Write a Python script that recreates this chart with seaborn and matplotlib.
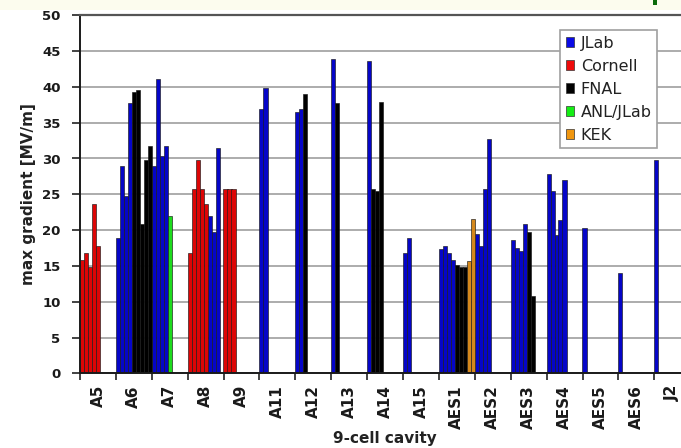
import numpy as np
import pandas as pd
import matplotlib
matplotlib.use("Agg")
import matplotlib.pyplot as plt
import seaborn as sns
from matplotlib.patches import Rectangle, Patch

# ---------------- data ----------------
cavities = ["A5", "A6", "A7", "A8", "A9", "A11", "A12", "A13", "A14", "A15",
            "AES1", "AES2", "AES3", "AES4", "AES5", "AES6", "J2"]

gradients = [
    [15.8, 16.8, 14.9, 23.7, 17.8],                          # A5
    [18.9, 29.0, 24.7, 37.7, 39.3, 39.6, 20.9, 29.8, 31.7],  # A6
    [28.9, 41.1, 30.3, 31.7, 21.9],                          # A7
    [16.8, 25.8, 29.8, 25.8, 23.7, 21.9, 19.8, 31.5],        # A8
    [25.8, 25.8, 25.8],                                      # A9
    [36.9, 39.9],                                            # A11
    [36.5, 36.9, 39.0],                                      # A12
    [43.9, 37.8],                                            # A13
    [43.6, 25.8, 25.4, 37.9],                                # A14
    [16.8, 18.9],                                            # A15
    [17.4, 17.8, 16.8, 15.8, 15.1, 14.9, 14.9, 15.7, 21.6],  # AES1
    [19.5, 17.8, 25.8, 32.7],                                # AES2
    [18.6, 17.5, 17.1, 20.9, 19.8, 10.8],                    # AES3
    [27.9, 25.4, 19.3, 21.4, 27.0],                          # AES4
    [20.3],                                                  # AES5
    [14.0],                                                  # AES6
    [29.8],                                                  # J2
]

test_labs = [
    ["Cornell"] * 5,
    ["JLab"] * 4 + ["FNAL"] * 5,
    ["JLab"] * 4 + ["ANL/JLab"],
    ["Cornell"] * 5 + ["JLab"] * 3,
    ["Cornell"] * 3,
    ["JLab"] * 2,
    ["JLab"] * 2 + ["FNAL"],
    ["JLab", "FNAL"],
    ["JLab"] + ["FNAL"] * 3,
    ["JLab"] * 2,
    ["JLab"] * 4 + ["FNAL"] * 3 + ["KEK"] * 2,
    ["JLab"] * 4,
    ["JLab"] * 4 + ["FNAL"] * 2,
    ["JLab"] * 5,
    ["JLab"],
    ["JLab"],
    ["JLab"],
]

lab_order = ["JLab", "Cornell", "FNAL", "ANL/JLab", "KEK"]
lab_colors = ["#0505C8", "#DD0505", "#000000", "#1EDC1E", "#D5881C"]
legend_colors = ["#0A0AE6", "#EE0A0A", "#000000", "#14EE14", "#F0960F"]
y_ticks = list(range(0, 55, 5))

SLOTS = 9  # test slots per cavity group

rows = []
for ci, (cav, vals, labs_) in enumerate(zip(cavities, gradients, test_labs)):
    for k, (v, lab) in enumerate(zip(vals, labs_)):
        rows.append(dict(cavity=cav, pos=ci - 0.5 + (k + 0.5) / SLOTS,
                         gradient=v, lab=lab))
df = pd.DataFrame(rows)

# ---------------- style ----------------
sns.set_theme(style="white")
plt.rcParams["font.family"] = ["DejaVu Sans"]

W, H = 681, 448
fig = plt.figure(figsize=(W / 100, H / 100), dpi=100)
fig.patch.set_facecolor("white")
# cream strip at the top of the slide and small green mark
fig.patches.append(Rectangle((0, 1 - 10 / H), 1, 10 / H, transform=fig.transFigure,
                             facecolor="#FCFCEE", edgecolor="none", zorder=0))
fig.patches.append(Rectangle((653 / W, 1 - 5 / H), 3.5 / W, 5 / H, transform=fig.transFigure,
                             facecolor="#0B6B0B", edgecolor="none", zorder=1))

x0, x1 = 80.0, 690.2
y_top, y_bot = 15.3, 373.3
ax = fig.add_axes([x0 / W, (H - y_bot) / H, (x1 - x0) / W, (y_bot - y_top) / H])
ax.set_facecolor("white")

sns.barplot(data=df, x="pos", y="gradient", hue="lab", hue_order=lab_order,
            palette=dict(zip(lab_order, lab_colors)), native_scale=True,
            dodge=False, width=1.05, errorbar=None, saturation=1,
            edgecolor="#1a1a1a", linewidth=0.45, ax=ax, legend=False)

ax.set_xlim(-0.5, len(cavities) - 0.5)
ax.set_ylim(0, 50)
ax.set_yticks(y_ticks)
ax.set_yticklabels([str(t) for t in y_ticks], fontsize=9.5, fontweight="bold",
                   color="#1a1a1a")
ax.yaxis.grid(True, color="#A6A6A6", linewidth=1.3)
ax.set_axisbelow(True)

ax.set_xticks(range(len(cavities)))
ax.set_xticklabels(cavities, rotation=90, fontsize=11, fontweight="bold",
                   color="#1a1a1a")
ax.set_xticks(np.arange(-0.5, len(cavities), 1.0), minor=True)
ax.tick_params(axis="x", which="major", length=0, pad=8.5, bottom=True)
ax.tick_params(axis="x", which="minor", length=5, width=1.2, color="#222222",
               direction="out", bottom=True)
ax.tick_params(axis="y", which="major", length=6, width=1.2, color="#222222",
               direction="out", left=True, pad=8)

for side in ["left", "bottom"]:
    ax.spines[side].set_color("#1a1a1a")
    ax.spines[side].set_linewidth(1.4)
ax.spines["top"].set_color("#555555")
ax.spines["top"].set_linewidth(1.6)
ax.spines["right"].set_visible(False)

ax.set_xlabel("9-cell cavity", fontsize=11, fontweight="bold", color="#222222")
ax.set_ylabel("max gradient [MV/m]", fontsize=11, fontweight="bold", color="#222222")
ax.xaxis.set_label_coords((385 - x0) / (x1 - x0), (y_bot - 431) / (y_bot - y_top))
ax.yaxis.set_label_coords((36 - x0) / (x1 - x0), 0.5)

handles = [Patch(facecolor=c, edgecolor="#333333", linewidth=0.5) for c in legend_colors]
leg = ax.legend(handles, lab_order, loc="upper left",
                bbox_to_anchor=((560 - x0) / (x1 - x0), (y_bot - 30) / (y_bot - y_top)),
                frameon=True, fancybox=False, framealpha=1, edgecolor="#A0A0A0",
                fontsize=11.5, handlelength=0.55, handleheight=0.55, handletextpad=0.4,
                labelspacing=0.5, borderpad=0.35, borderaxespad=0)
leg.get_frame().set_linewidth(1.2)
for t in leg.get_texts():
    t.set_color("#222222")

fig.savefig("out.png", dpi=100)
